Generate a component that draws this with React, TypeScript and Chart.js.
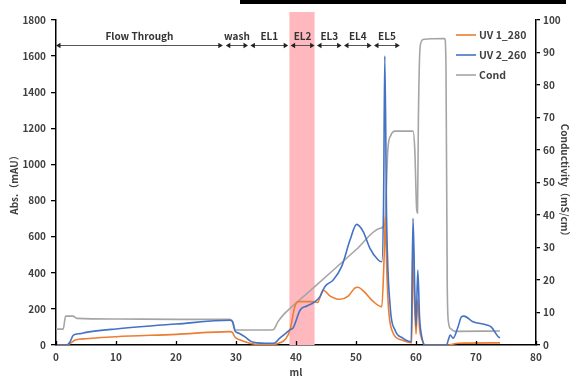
import React, { useEffect, useRef } from "react";
import { Chart, registerables } from "chart.js";

Chart.register(...registerables);

// ---------- data ----------
const uv280Ml = [0, 1.8, 2.5, 3.2, 5, 10, 20, 29, 29.4, 29.8, 30.5, 31.5, 32.5, 33.5, 36, 37.3, 38.3, 39, 39.8, 40.4, 42.6, 43.6, 44.5, 45.7, 47.3, 48.7, 49.8, 50.3, 51.5, 52.9, 54.3, 54.7, 54.9, 55.1, 55.4, 56.2, 57.6, 59.3, 59.5, 59.7, 60.0, 60.3, 60.6, 61, 61.5, 65.5, 66, 67, 74];
const uv280Val = [0, 0, 12, 28, 35, 46, 59, 74, 70, 45, 30, 18, 8, 4, 3, 12, 35, 83, 212, 240, 240, 236, 305, 271, 253, 271, 315, 320, 290, 240, 212, 500, 711, 450, 212, 65, 28, 13, 600, 300, 60, 250, 90, 30, 0, 0, 4, 10, 12];

const uv260Ml = [0, 1.8, 2.3, 2.9, 4, 5, 10, 20, 29, 29.4, 29.8, 30.5, 31.5, 32.5, 33.5, 35, 36.3, 37.3, 38.3, 39, 39.5, 40.7, 41.8, 42.9, 44, 44.8, 46.2, 47.6, 49, 50.1, 51.2, 52.3, 53.7, 54.3, 54.6, 54.8, 55.1, 55.7, 56.5, 57.8, 59.2, 59.5, 59.8, 60.0, 60.3, 60.6, 61, 61.5, 65.1, 65.4, 65.7, 66.2, 67, 67.6, 68, 69.5, 71.8, 72.6, 73.7, 74];
const uv260Val = [0, 0, 15, 55, 63, 70, 89, 116, 137, 130, 80, 65, 45, 20, 12, 10, 10, 38, 65, 85, 94, 194, 216, 234, 268, 323, 360, 434, 581, 668, 628, 537, 471, 461, 800, 1600, 700, 212, 83, 38, 18, 702, 300, 101, 415, 150, 40, 0, 0, 30, 55, 38, 100, 157, 160, 129, 111, 98, 46, 40];

const condMl = [0, 1.2, 1.6, 2.8, 3.5, 10, 20, 29, 29.5, 29.9, 33, 36.2, 37, 38, 42, 46, 50, 54, 54.8, 55.0, 55.3, 55.8, 56.5, 59.5, 59.8, 60.1, 60.25, 60.4, 60.7, 61.2, 64.8, 65.0, 65.2, 65.4, 65.8, 66.5, 74];
const condVal = [4.9, 4.9, 8.9, 8.9, 8.2, 8.0, 7.9, 7.9, 7.0, 4.6, 4.6, 4.7, 7.2, 9.5, 16.1, 22.7, 29.3, 35.9, 37.2, 45, 60, 64.5, 65.8, 65.8, 60, 42, 40.6, 70, 92, 94, 94.3, 85, 20, 7.2, 5, 4.2, 4.3];

const seriesNames = ["UV 1_280", "UV 2_260", "Cond"];
const seriesColors = ["#ED7D31", "#4472C4", "#A5A5A5"];

const xTicks = [0, 10, 20, 30, 40, 50, 60, 70, 80];
const yTicks = [0, 200, 400, 600, 800, 1000, 1200, 1400, 1600, 1800];
const y1Ticks = [0, 10, 20, 30, 40, 50, 60, 70, 80, 90, 100];

const segLabels = ["Flow Through", "wash", "EL1", "EL2", "EL3", "EL4", "EL5"];
const segStart = [0, 28.3, 32.4, 39.1, 43.5, 48.0, 53.0];
const segEnd = [27.8, 32.0, 38.7, 43.1, 47.6, 52.6, 57.3];

const bandStart = 38.9;
const bandEnd = 43.1;

const FONT = "'Noto Sans CJK JP', 'Noto Sans', sans-serif";
const TXT = "#404040";

function toPoints(xs: number[], ys: number[]) {
  return xs.map((x, i) => ({ x, y: ys[i] }));
}

const overlayPlugin = {
  id: "overlay",
  beforeDatasetsDraw(chart: any) {
    const { ctx, chartArea, scales } = chart;
    const x = scales.x;
    const a = x.getPixelForValue(bandStart);
    const b = x.getPixelForValue(bandEnd);
    ctx.save();
    ctx.fillStyle = "#FFB9BE";
    ctx.fillRect(a, chartArea.top - 8, b - a, chartArea.bottom - chartArea.top + 8);
    ctx.restore();
  },
  afterDraw(chart: any) {
    const { ctx, chartArea, scales } = chart;
    const x = scales.x;
    ctx.save();
    // inward x ticks
    ctx.strokeStyle = "#000";
    ctx.lineWidth = 1.3;
    xTicks.forEach((t) => {
      const px = Math.round(x.getPixelForValue(t)) + 0.5;
      ctx.beginPath();
      ctx.moveTo(px, chartArea.bottom);
      ctx.lineTo(px, chartArea.bottom - 4);
      ctx.stroke();
    });
    // segments
    const ly = chartArea.top + 25.5;
    ctx.font = `bold 10px ${FONT}`;
    ctx.textAlign = "center";
    ctx.textBaseline = "middle";
    segLabels.forEach((lab, i) => {
      const a = x.getPixelForValue(segStart[i]);
      const b = x.getPixelForValue(segEnd[i]);
      ctx.strokeStyle = "#555";
      ctx.lineWidth = 1;
      ctx.beginPath();
      ctx.moveTo(a + 2, ly);
      ctx.lineTo(b - 2, ly);
      ctx.stroke();
      ctx.fillStyle = "#222";
      ctx.beginPath();
      ctx.moveTo(a, ly);
      ctx.lineTo(a + 4.5, ly - 2.8);
      ctx.lineTo(a + 4.5, ly + 2.8);
      ctx.closePath();
      ctx.fill();
      ctx.beginPath();
      ctx.moveTo(b, ly);
      ctx.lineTo(b - 4.5, ly - 2.8);
      ctx.lineTo(b - 4.5, ly + 2.8);
      ctx.closePath();
      ctx.fill();
      ctx.fillStyle = "#333";
      ctx.fillText(lab, (a + b) / 2, ly - 9);
    });
    // legend
    ctx.font = `bold 10.5px ${FONT}`;
    ctx.textAlign = "left";
    seriesNames.forEach((n, i) => {
      const yy = chartArea.top + 15 + i * 20;
      ctx.strokeStyle = seriesColors[i];
      ctx.lineWidth = 1.6;
      ctx.beginPath();
      ctx.moveTo(chartArea.right - 80, yy);
      ctx.lineTo(chartArea.right - 60, yy);
      ctx.stroke();
      ctx.fillStyle = TXT;
      ctx.fillText(n, chartArea.right - 57, yy);
    });
    ctx.restore();
  },
};

export default function App() {
  const ref = useRef<HTMLCanvasElement | null>(null);
  useEffect(() => {
    if (!ref.current) return;
    const tickFont = { family: FONT, size: 10, weight: "bold" as const };
    const plain = (v: any) => String(v);
    const chart = new Chart(ref.current, {
      type: "line",
      data: {
        datasets: [
          {
            label: seriesNames[1],
            data: toPoints(uv260Ml, uv260Val),
            borderColor: seriesColors[1],
            yAxisID: "y",
            order: 1,
          },
          {
            label: seriesNames[0],
            data: toPoints(uv280Ml, uv280Val),
            borderColor: seriesColors[0],
            yAxisID: "y",
            order: 2,
          },
          {
            label: seriesNames[2],
            data: toPoints(condMl, condVal),
            borderColor: seriesColors[2],
            yAxisID: "y1",
            order: 3,
          },
        ].map((d) => ({
          ...d,
          borderWidth: 1.6,
          pointRadius: 0,
          fill: false,
          cubicInterpolationMode: "monotone" as const,
        })),
      },
      options: {
        animation: false,
        responsive: false,
        devicePixelRatio: 1,
        layout: { padding: { top: 20, left: 0, right: 0, bottom: 0 } },
        plugins: { legend: { display: false }, tooltip: { enabled: false } },
        scales: {
          x: {
            type: "linear",
            min: 0,
            max: 80,
            afterBuildTicks: (s: any) => {
              s.ticks = xTicks.map((v) => ({ value: v }));
            },
            afterFit: (s: any) => {
              s.height = 31;
            },
            ticks: { font: tickFont, color: TXT, padding: 6, maxRotation: 0, callback: plain },
            grid: { display: false, drawTicks: false },
            border: { display: true, color: "#000", width: 1.5 },
            title: {
              display: true,
              text: "ml",
              font: tickFont,
              color: TXT,
              padding: { top: 0, bottom: -2 },
            },
          },
          y: {
            type: "linear",
            position: "left",
            min: 0,
            max: 1800,
            afterBuildTicks: (s: any) => {
              s.ticks = yTicks.map((v) => ({ value: v }));
            },
            afterFit: (s: any) => {
              s.width = 56;
            },
            ticks: { font: tickFont, color: TXT, padding: 5, callback: plain },
            grid: {
              display: true,
              drawOnChartArea: false,
              drawTicks: true,
              tickLength: 5,
              color: "#000",
              lineWidth: 1.3,
            },
            border: { display: true, color: "#000", width: 1.5 },
            title: {
              display: true,
              text: "Abs.（mAU）",
              font: tickFont,
              color: TXT,
              padding: { top: 8, bottom: 0 },
            },
          },
          y1: {
            type: "linear",
            position: "right",
            min: 0,
            max: 100,
            afterBuildTicks: (s: any) => {
              s.ticks = y1Ticks.map((v) => ({ value: v }));
            },
            afterFit: (s: any) => {
              s.width = 37;
            },
            ticks: { font: tickFont, color: TXT, padding: 3, callback: plain },
            grid: {
              display: true,
              drawOnChartArea: false,
              drawTicks: true,
              tickLength: 4,
              color: "#000",
              lineWidth: 1.3,
            },
            border: { display: true, color: "#000", width: 1.5 },
            title: {
              display: true,
              text: "Conductivity（mS/cm）",
              font: tickFont,
              color: TXT,
              padding: { top: 2, bottom: 0 },
            },
          },
        },
      },
      plugins: [overlayPlugin],
    });
    return () => chart.destroy();
  }, []);

  return (
    <div style={{ position: "fixed", left: 0, top: 0, width: 573, height: 376, background: "#fff" }}>
      <canvas ref={ref} width={573} height={376} style={{ display: "block" }} />
      <div style={{ position: "absolute", left: 240, top: 0, width: 326, height: 4, background: "#000" }} />
    </div>
  );
}
